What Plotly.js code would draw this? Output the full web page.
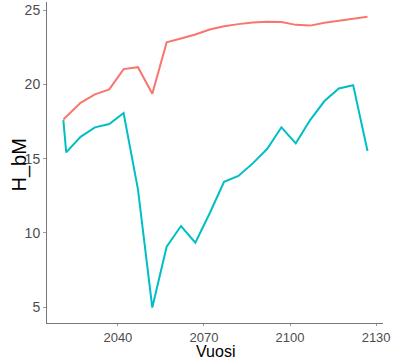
<!DOCTYPE html>
<html>
<head>
<meta charset="utf-8">
<script src="https://cdn.plot.ly/plotly-3.0.1.min.js"></script>
<style>html,body{margin:0;padding:0;background:#fff;}#chart{width:394px;height:360px;}</style>
</head>
<body>
<div id="chart"></div>
<script>
const yearsA = [2021, 2027, 2032, 2037, 2042, 2047, 2052, 2057, 2062, 2067, 2072, 2077, 2082, 2087, 2092, 2097, 2102, 2107, 2112, 2117, 2122, 2127];
const seriesA = [17.64, 18.76, 19.33, 19.66, 21.03, 21.16, 19.37, 22.83, 23.09, 23.36, 23.70, 23.92, 24.06, 24.17, 24.22, 24.21, 24.01, 23.96, 24.15, 24.28, 24.41, 24.55];
const yearsB = [2021, 2022, 2027, 2032, 2037, 2042, 2047, 2052, 2057, 2062, 2067, 2072, 2077, 2082, 2087, 2092, 2097, 2102, 2107, 2112, 2117, 2122, 2127];
const seriesB = [17.60, 15.42, 16.47, 17.11, 17.33, 18.07, 12.93, 4.97, 9.07, 10.46, 9.34, 11.32, 13.44, 13.83, 14.68, 15.65, 17.11, 16.03, 17.60, 18.88, 19.73, 19.95, 15.51];
const xTicks = [2040, 2070, 2100, 2130];
const yTicks = [5, 10, 15, 20, 25];
const xTitle = 'Vuosi';
const yTitle = 'H_bM';

const traces = [
  {x: yearsA, y: seriesA, type: 'scatter', mode: 'lines', line: {color: '#F8766D', width: 2}, showlegend: false, hoverinfo: 'skip'},
  {x: yearsB, y: seriesB, type: 'scatter', mode: 'lines', line: {color: '#00BFC4', width: 2}, showlegend: false, hoverinfo: 'skip'}
];
const layout = {
  width: 394, height: 360,
  margin: {l: 47, r: 11, t: 2, b: 37, pad: 0},
  paper_bgcolor: '#fff', plot_bgcolor: '#fff',
  font: {family: 'Liberation Sans, Arial, sans-serif'},
  xaxis: {
    range: [2015.3, 2132.4], tickvals: xTicks, ticktext: xTicks.map(String),
    showgrid: false, zeroline: false, showline: true, linecolor: '#777', linewidth: 1,
    ticks: 'outside', ticklen: 2, tickcolor: '#999', tickwidth: 1,
    tickfont: {size: 13, color: '#4D4D4D'}
  },
  yaxis: {
    range: [3.93, 25.55], tickvals: yTicks, ticktext: yTicks.map(String),
    showgrid: false, zeroline: false, showline: true, linecolor: '#777', linewidth: 1,
    ticks: 'outside', ticklen: 3, tickcolor: '#999', tickwidth: 1,
    tickfont: {size: 14, color: '#4D4D4D'}
  },
  annotations: [
    {text: xTitle, xref: 'paper', yref: 'paper', x: (215.5 - 47) / 336, y: (323 - 351) / 321,
     xanchor: 'center', yanchor: 'middle', borderpad: 0, showarrow: false, font: {size: 16, color: '#000'}},
    {text: yTitle, xref: 'paper', yref: 'paper', x: (19 - 47) / 336, y: (323 - 165.5) / 321,
     xanchor: 'center', yanchor: 'middle', textangle: -90, showarrow: false, font: {size: 20, color: '#000'}}
  ]
};
Plotly.newPlot('chart', traces, layout, {staticPlot: true, displayModeBar: false});
</script>
</body>
</html>
